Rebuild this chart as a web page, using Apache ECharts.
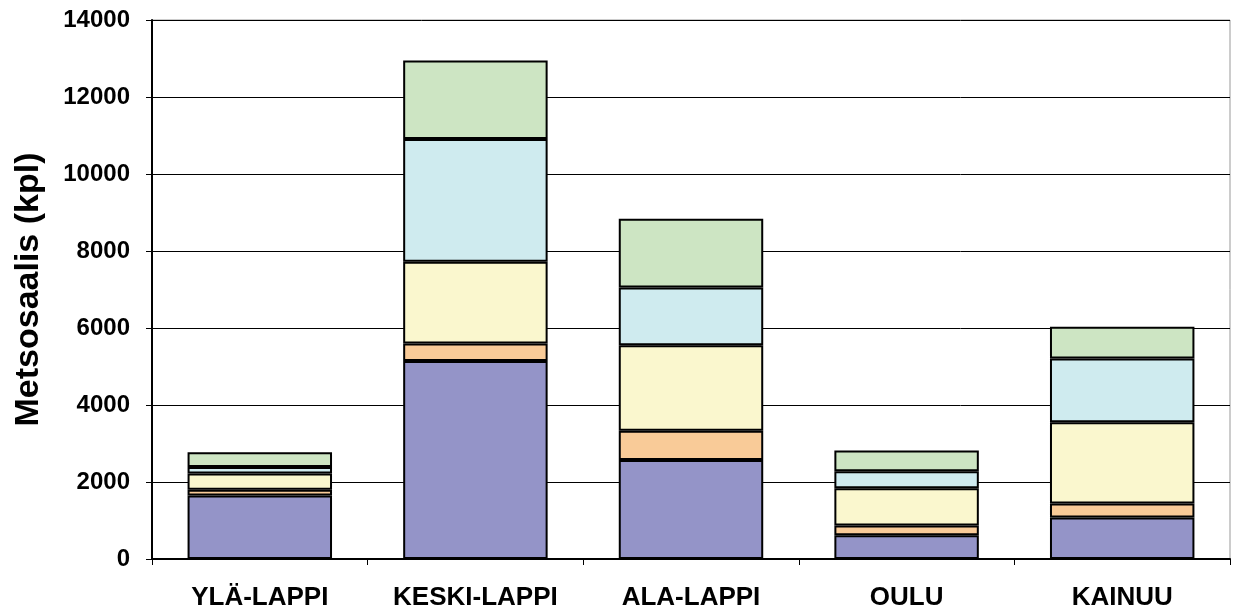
<!DOCTYPE html>
<html>
<head>
<meta charset="utf-8">
<script src="https://cdn.jsdelivr.net/npm/echarts@6/dist/echarts.min.js"></script>
<style>
  html, body { margin: 0; padding: 0; background: #fff; }
  #chart { width: 1234px; height: 615px; }
</style>
</head>
<body>
<div id="chart"></div>
<script>
// alueet
const regions = ['YLÄ-LAPPI', 'KESKI-LAPPI', 'ALA-LAPPI', 'OULU', 'KAINUU'];

// pinotut osat alhaalta ylös (kpl)
const part1 = [1650, 5140, 2570, 620, 1080];
const part2 = [150, 460, 760, 250, 360];
const part3 = [420, 2120, 2220, 970, 2110];
const part4 = [170, 3190, 1500, 440, 1660];
const part5 = [380, 2040, 1790, 540, 820];

const yTicks = [0, 2000, 4000, 6000, 8000, 10000, 12000, 14000];

const parts = [part1, part2, part3, part4, part5];
const colors = ['#9494C8', '#F9CB98', '#FAF7CE', '#CFEBEF', '#CDE5C3'];

var myChart = echarts.init(document.getElementById('chart'));

const option = {
  animation: false,
  textStyle: { fontFamily: 'Liberation Sans, Arial, sans-serif' },
  grid: {
    left: 152,
    right: 4,
    top: 20,
    bottom: 56,
    show: true,
    borderColor: '#999',
    borderWidth: 1
  },
  xAxis: {
    type: 'category',
    data: regions,
    axisLine: { lineStyle: { color: '#000', width: 2 } },
    axisTick: { show: true, length: 6, lineStyle: { color: '#000' } },
    axisLabel: {
      margin: 26,
      color: '#000',
      fontSize: 26,
      fontWeight: 'bold'
    }
  },
  yAxis: {
    type: 'value',
    min: yTicks[0],
    max: yTicks[yTicks.length - 1],
    interval: 2000,
    name: 'Metsosaalis (kpl)',
    nameLocation: 'middle',
    nameGap: 106,
    nameTextStyle: { color: '#000', fontSize: 34, fontWeight: 'bold' },
    axisLine: { show: true, lineStyle: { color: '#000', width: 2 } },
    axisTick: { show: true, length: 6, lineStyle: { color: '#000' } },
    axisLabel: {
      margin: 22,
      color: '#000',
      fontSize: 24,
      fontWeight: 'bold',
      formatter: v => String(v)
    },
    splitLine: { lineStyle: { color: '#000', width: 1 } }
  },
  series: parts.map((vals, i) => ({
    name: 'osa' + (i + 1),
    type: 'bar',
    stack: 'saalis',
    barCategoryGap: '33%',
    data: vals,
    itemStyle: {
      color: colors[i],
      borderColor: '#000',
      borderWidth: 2
    }
  }))
};

option && myChart.setOption(option);
</script>
</body>
</html>
